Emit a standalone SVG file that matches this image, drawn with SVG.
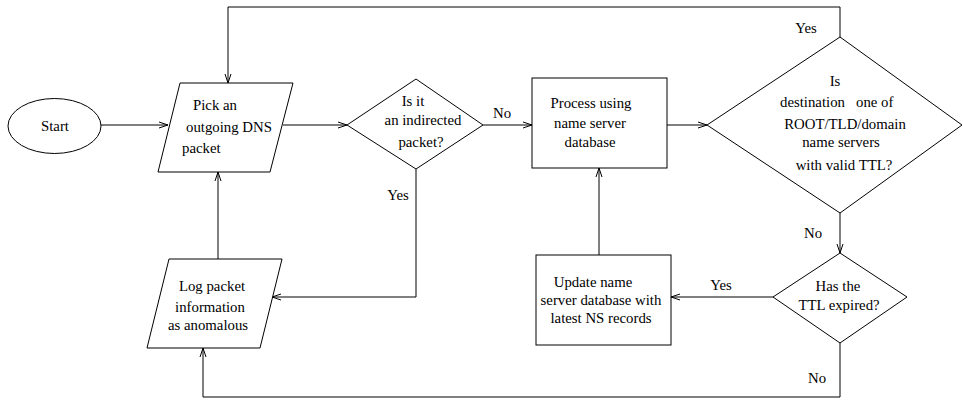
<svg xmlns="http://www.w3.org/2000/svg" width="963" height="401" viewBox="0 0 963 401">
<defs>
<style>
.s{fill:#fff;stroke:#000;stroke-width:1}
.c{fill:none;stroke:#000;stroke-width:1}
text{font-family:"Liberation Serif","Times New Roman",serif;font-size:14.8px;fill:#000}
.m{text-anchor:middle}
</style>
<marker id="a" markerWidth="10" markerHeight="8" refX="9" refY="4" orient="auto" markerUnits="userSpaceOnUse">
<path d="M0,1 L9,4 L0,7" fill="none" stroke="#000" stroke-width="1"/>
</marker>
</defs>
<rect width="963" height="401" fill="#fff"/>
<g id="connectors">
<line class="c" x1="101" y1="125" x2="168" y2="125" marker-end="url(#a)"/>
<line class="c" x1="283" y1="125" x2="347" y2="125" marker-end="url(#a)"/>
<line class="c" x1="483" y1="125" x2="532" y2="125" marker-end="url(#a)"/>
<line class="c" x1="667" y1="125" x2="707" y2="125" marker-end="url(#a)"/>
<polyline class="c" points="840,37 840,7 228,7 228,83" marker-end="url(#a)"/>
<line class="c" x1="840" y1="213" x2="840" y2="253" marker-end="url(#a)"/>
<line class="c" x1="773" y1="297" x2="671" y2="297" marker-end="url(#a)"/>
<line class="c" x1="599" y1="255" x2="599" y2="168" marker-end="url(#a)"/>
<polyline class="c" points="840,343 840,397 203,397 203,348" marker-end="url(#a)"/>
<line class="c" x1="218" y1="259" x2="218" y2="172" marker-end="url(#a)"/>
<polyline class="c" points="416,169 416,297 272,297" marker-end="url(#a)"/>
<text x="502" y="118" class="m">No</text>
<text x="806" y="33" class="m">Yes</text>
<text x="813" y="238" class="m">No</text>
<text x="721" y="290" class="m">Yes</text>
<text x="817" y="383" class="m">No</text>
<text x="398" y="200" class="m">Yes</text>
</g>
<g id="start">
<ellipse class="s" cx="54.5" cy="126" rx="46.5" ry="27.5"/>
<text x="55" y="131" class="m">Start</text>
</g>
<g id="pick">
<polygon class="s" points="180,83 293,83 270,172 158,172"/>
<text x="193" y="110">Pick an</text>
<text x="186" y="132">outgoing DNS</text>
<text x="182" y="153">packet</text>
</g>
<g id="indirected">
<polygon class="s" points="347,125 416,79 483,125 416,169"/>
<text x="413" y="106" class="m">Is it</text>
<text x="423" y="125" class="m">an indirected</text>
<text x="421" y="147" class="m">packet?</text>
</g>
<g id="process">
<rect class="s" x="532" y="78" width="135" height="90"/>
<text x="591" y="108" class="m">Process using</text>
<text x="590" y="128" class="m">name server</text>
<text x="590" y="147" class="m">database</text>
</g>
<g id="destination">
<polygon class="s" points="707,125 840,37 962,125 840,213"/>
<text x="835" y="86" class="m">Is</text>
<text x="780" y="107" style="white-space:pre">destination   one of</text>
<text x="845" y="129" class="m">ROOT/TLD/domain</text>
<text x="841" y="147" class="m">name servers</text>
<text x="844" y="170" class="m">with valid TTL?</text>
</g>
<g id="ttl">
<polygon class="s" points="773,297 840,253 907,297 840,343"/>
<text x="838" y="291" class="m">Has the</text>
<text x="839" y="310" class="m">TTL expired?</text>
</g>
<g id="update">
<rect class="s" x="536" y="255" width="135" height="90"/>
<text x="593" y="287" class="m">Update name</text>
<text x="601" y="305" class="m">server database with</text>
<text x="601" y="323" class="m">latest NS records</text>
</g>
<g id="log">
<polygon class="s" points="169,259 282,259 260,348 147,348"/>
<text x="212" y="291" class="m">Log packet</text>
<text x="210" y="312" class="m">information</text>
<text x="208" y="330" class="m">as anomalous</text>
</g>
</svg>
